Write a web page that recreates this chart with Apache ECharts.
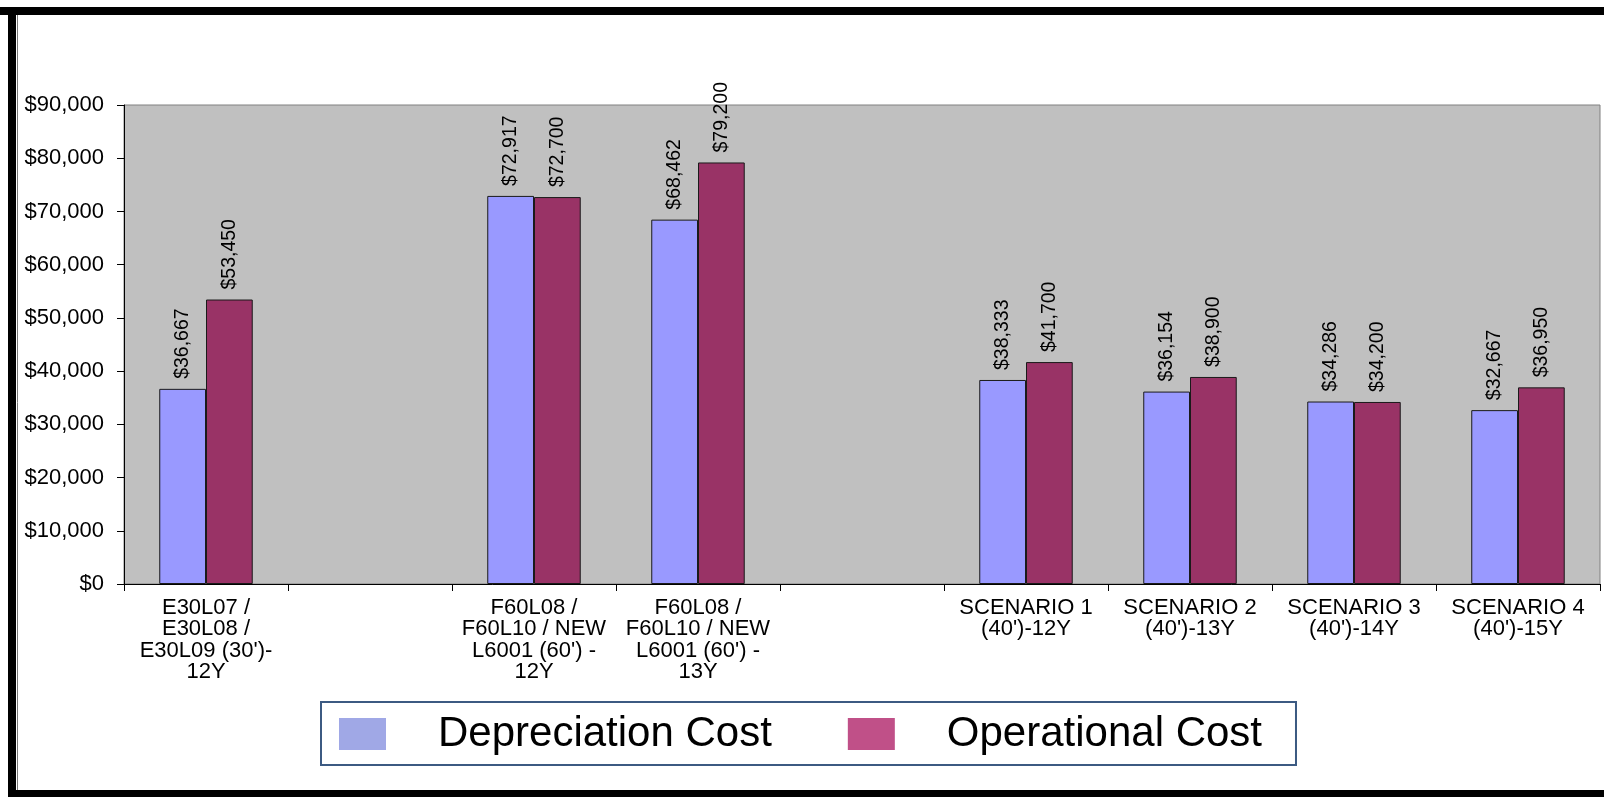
<!DOCTYPE html>
<html>
<head>
<meta charset="utf-8">
<script src="https://cdn.jsdelivr.net/npm/echarts@6/dist/echarts.min.js"></script>
<style>
  html, body { margin: 0; padding: 0; background: #fff; }
  #chart { width: 1604px; height: 797px; }
</style>
</head>
<body>
<div id="chart"></div>
<script>
// Cost per scenario; empty names are spacer slots between the groups
const categories = [
  'E30L07 /\nE30L08 /\nE30L09 (30\')-\n12Y',
  '',
  'F60L08 /\nF60L10 / NEW\nL6001 (60\') -\n12Y',
  'F60L08 /\nF60L10 / NEW\nL6001 (60\') -\n13Y',
  '',
  'SCENARIO 1\n(40\')-12Y',
  'SCENARIO 2\n(40\')-13Y',
  'SCENARIO 3\n(40\')-14Y',
  'SCENARIO 4\n(40\')-15Y'
];
const depreciationCost = [36667, null, 72917, 68462, null, 38333, 36154, 34286, 32667];
const operationalCost  = [53450, null, 72700, 79200, null, 41700, 38900, 34200, 36950];
const seriesNames = ['Depreciation Cost', 'Operational Cost'];

const money = v => '$' + Number(v).toLocaleString('en-US');
const FONT = '"Liberation Sans", Arial, sans-serif';

const barLabel = {
  show: true,
  position: 'top',
  distance: 10,
  rotate: 90,
  align: 'left',
  verticalAlign: 'middle',
  fontFamily: FONT,
  fontSize: 19.5,
  color: '#000',
  formatter: p => money(p.value)
};

const chart = echarts.init(document.getElementById('chart'), null, { renderer: 'canvas' });
chart.setOption({
  backgroundColor: '#ffffff',
  animation: false,
  grid: {
    left: 124, top: 105, right: 4, bottom: 213,
    show: true,
    backgroundColor: '#C0C0C0',
    borderColor: '#808080',
    borderWidth: 1
  },
  legend: {
    left: 321,
    top: 702,
    padding: [11, 34, 10, 18],
    borderColor: '#3C5A82',
    borderWidth: 2,
    itemWidth: 47,
    itemHeight: 32,
    itemGap: 76,
    icon: 'rect',
    itemStyle: { borderWidth: 0 },
    textStyle: {
      fontFamily: FONT,
      fontSize: 42,
      color: '#000',
      padding: [0, 0, 0, 47]
    },
    data: [
      { name: seriesNames[0], itemStyle: { color: '#A0A8E6', borderWidth: 0 } },
      { name: seriesNames[1], itemStyle: { color: '#C05088', borderWidth: 0 } }
    ]
  },
  xAxis: {
    type: 'category',
    data: categories,
    boundaryGap: true,
    axisLine: { lineStyle: { color: '#000', width: 1 } },
    axisTick: { show: true, length: 7, interval: 0, lineStyle: { color: '#000' } },
    axisLabel: {
      interval: 0,
      margin: 13,
      fontFamily: FONT,
      fontSize: 22,
      lineHeight: 21.5,
      color: '#000',
      align: 'center'
    }
  },
  yAxis: {
    type: 'value',
    min: 0,
    max: 90000,
    interval: 10000,
    splitLine: { show: false },
    axisLine: { show: true, lineStyle: { color: '#000', width: 1 } },
    axisTick: { show: true, length: 7, lineStyle: { color: '#000' } },
    axisLabel: {
      margin: 20,
      fontFamily: FONT,
      fontSize: 22,
      color: '#000',
      formatter: v => money(v)
    }
  },
  series: [
    {
      name: seriesNames[0],
      type: 'bar',
      data: depreciationCost,
      barGap: '0%',
      barCategoryGap: '43%',
      itemStyle: { color: '#9999FF', borderColor: '#1a1a1a', borderWidth: 1 },
      label: barLabel
    },
    {
      name: seriesNames[1],
      type: 'bar',
      data: operationalCost,
      barGap: '0%',
      barCategoryGap: '43%',
      itemStyle: { color: '#993366', borderColor: '#1a1a1a', borderWidth: 1 },
      label: barLabel
    }
  ],
  // page frame around the chart
  graphic: [
    { type: 'rect', shape: { x: 0, y: 7, width: 1604, height: 8 }, style: { fill: '#000' } },
    { type: 'rect', shape: { x: 8, y: 7, width: 8, height: 790 }, style: { fill: '#000' } },
    { type: 'rect', shape: { x: 8, y: 790, width: 1596, height: 7 }, style: { fill: '#000' } },
    { type: 'line', shape: { x1: 17.5, y1: 15, x2: 17.5, y2: 790 }, style: { stroke: '#777', lineWidth: 1 } }
  ]
});
</script>
</body>
</html>
